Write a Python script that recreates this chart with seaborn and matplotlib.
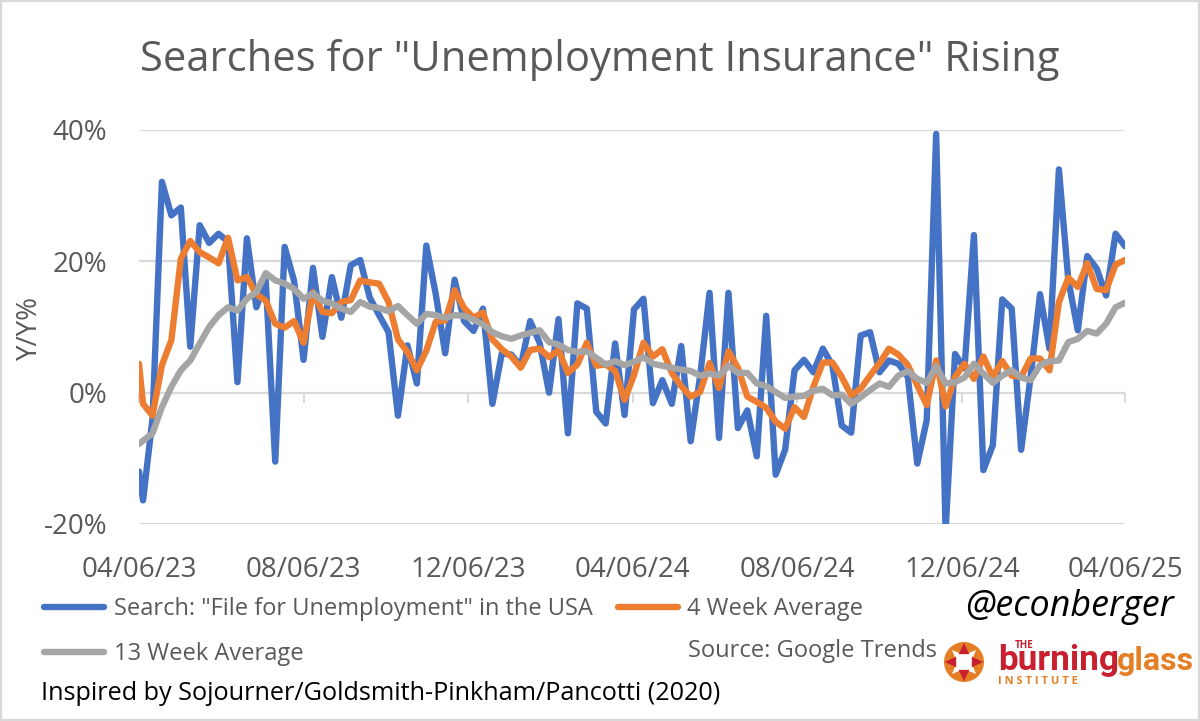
import numpy as np
import pandas as pd
import matplotlib.pyplot as plt
import matplotlib.dates as mdates
from matplotlib.lines import Line2D
from matplotlib.patches import Circle, Polygon, Rectangle
import seaborn as sns

# first point is the 6 April axis start, then Sundays up to 6 April 2025
start_date = "2023-04-06"
first_sunday = "2023-04-09"
last_sunday = "2025-04-06"

search = [-12, -16.4, -4, 32.1, 27, 28.2, 7, 25.5, 22.8, 24.2, 23, 1.6, 23.5, 13, 17, -10.5,
          22.2, 17, 5, 19, 8.5, 17.6, 11.4, 19.4, 20.2, 14.5, 11.8, 9.2, -3.5, 7.2, 1.4, 22.4,
          15, 6, 17.2, 10.9, 9.4, 12.8, -1.7, 6, 5.8, 4, 10.9, 7.6, 0, 11.2, -6.2, 13.6, 12.8,
          -2.9, -4.7, 7.5, -3.4, 12.7, 14.3, -1.6, 1.9, -1.7, 7.1, -7.4, 2.5, 15.2, -6.9, 15.2,
          -5.4, -2.7, -9.7, 11.7, -12.5, -8.7, 3.4, 5, 3.1, 6.7, 4.2, -5, -6.1, 8.7, 9.2, 3.1,
          4.9, 4.4, 2.4, -10.8, -4.2, 39.4, -21, 5.9, 3.7, 24, -11.8, -8, 14.2, 12.8, -8.7, 2.4,
          15, 6.7, 34, 17.1, 9.5, 20.8, 18.9, 14.8, 24.2, 22.3]
avg_4wk = [4.4, -1.7, -3.5, 4.2, 8, 20.4, 23.1, 21.4, 20.6, 19.7, 23.6, 17.1, 17.6, 15, 14, 10.5,
           9.9, 10.9, 7.6, 15.3, 12.3, 12.1, 13.8, 14.1, 17.1, 16.8, 16.6, 13.8, 8.1, 6.2, 3.4, 6.4,
           10.8, 11, 15.6, 12.9, 11.4, 12.2, 8.1, 6.6, 5.5, 3.8, 6.5, 6.7, 5.4, 6.5, 3, 4.3, 7.6,
           4.1, 4.3, 3.3, -1.1, 2.7, 7.6, 5.5, 6.6, 3, 1, -0.6, 0.1, 4.5, 0.7, 6.3, 3.8, -0.6,
           -1.4, -2.3, -4.4, -5.5, -2.2, -3.7, 0.9, 4.6, 4.6, 2.4, -0.4, 0.6, 2.6, 4.5, 6.7, 5.8,
           4.2, 1.1, -1.9, 4.9, -2.1, 2.4, 4.4, 2.1, 5.5, 2.4, 4.8, 2.6, 2.4, 5.2, 5.2, 3.4, 13.8,
           17.5, 16.1, 19.7, 15.8, 15.6, 19.5, 20.2]
avg_13wk = [-7.8, -7.3, -6.2, -2.2, 0.9, 3.4, 4.9, 7.5, 10, 11.8, 13, 12.5, 14.3, 15.3, 18.2, 17.1,
            16.6, 15.8, 14.3, 15.1, 14, 13.6, 12.8, 12.3, 13.8, 13.1, 12.9, 12.4, 13.2, 11.8, 10.5,
            12, 11.8, 11.4, 11.8, 11.7, 11.1, 10.4, 9.2, 8.6, 8.2, 8.7, 9.1, 9.5, 7.7, 7.3, 6.5,
            6.2, 6.3, 5.3, 4.3, 4.8, 4.2, 4.7, 5.4, 4.4, 4.1, 3.8, 3.5, 3.3, 2.6, 2.9, 2.6, 4.1,
            3, 3, 1.4, 1, 0.1, -0.8, -0.6, -0.5, 0.3, 0.6, -0.4, -0.3, -1.7, -0.7, 0.4, 1.4, 0.9,
            2.6, 3.3, 2.1, 1.5, 4, 1.4, 1.6, 2.3, 4.4, 2.9, 1.5, 2.6, 3.4, 2.3, 1.9, 4.2, 4.8, 4.9,
            7.7, 8.2, 9.4, 9, 10.5, 13, 13.7]

series_names = ['Search: "File for Unemployment" in the USA', "4 Week Average", "13 Week Average"]
series_colors = ["#4472C4", "#ED7D31", "#A5A5A5"]
tick_dates = ["2023-04-06", "2023-08-06", "2023-12-06", "2024-04-06", "2024-08-06", "2024-12-06", "2025-04-06"]
y_ticks = [-20, 0, 20, 40]

grey_text = "#595959"
grid_grey = "#D9D9D9"
W, H = 1200, 721

sns.set_theme(style="white")
plt.rcParams["font.family"] = ["Open Sans", "DejaVu Sans"]

dates = [pd.Timestamp(start_date)] + list(pd.date_range(first_sunday, last_sunday, freq="7D"))
df = pd.DataFrame({"date": dates, series_names[0]: search, series_names[1]: avg_4wk, series_names[2]: avg_13wk})
long_df = df.melt(id_vars="date", var_name="series", value_name="yoy")

fig = plt.figure(figsize=(12, 7.21), dpi=100)
ax = fig.add_axes([139 / W, 1 - 524 / H, (1125 - 139) / W, (524 - 130) / H])

sns.lineplot(data=long_df, x="date", y="yoy", hue="series", hue_order=series_names,
             palette=series_colors, linewidth=4.6, estimator=None, sort=False, legend=False, ax=ax,
             solid_joinstyle="round", solid_capstyle="round")

ax.set_xlim(pd.Timestamp(tick_dates[0]), pd.Timestamp(tick_dates[-1]))
ax.set_ylim(-20, 40)
ax.set_yticks(y_ticks)
ax.set_yticklabels([f"{v}%" for v in y_ticks])
ax.set_xticks([pd.Timestamp(d) for d in tick_dates])
ax.xaxis.set_major_formatter(mdates.DateFormatter("%m/%d/%y"))
ax.tick_params(axis="both", length=0, labelsize=20, labelcolor=grey_text)
ax.tick_params(axis="x", pad=23)
ax.tick_params(axis="y", pad=23)
ax.grid(axis="y", color=grid_grey, linewidth=1.6)
ax.set_axisbelow(True)
sns.despine(ax=ax, left=True, bottom=True)
ax.set_xlabel("")
ax.set_ylabel("")
fig.text(30 / W, 1 - 328 / H, "Y/Y%", fontsize=20, color=grey_text, rotation=90, ha="center", va="center")

# tick marks sit on the zero line, labels stay at the bottom
zero_axis = ax.secondary_xaxis(20 / 60)
zero_axis.set_xticks([pd.Timestamp(d) for d in tick_dates])
zero_axis.set_xticklabels([])
zero_axis.tick_params(axis="x", direction="out", length=7, width=1.4, color=grid_grey, bottom=True, top=False)
zero_axis.spines["bottom"].set_visible(False)
zero_axis.spines["top"].set_visible(False)

fig.text(599.5 / W, 1 - 60 / H, 'Searches for "Unemployment Insurance" Rising', fontsize=30.1,
         color=grey_text, ha="center", va="center")

# legend, same column fill as the original
handles = [Line2D([], [], color=series_colors[i], linewidth=4.6, solid_capstyle="round") for i in [0, 2, 1]]
labels = [series_names[i] for i in [0, 2, 1]]
fig.legend(handles, labels, ncol=2, loc="upper left", bbox_to_anchor=(44 / W, 1 - 597 / H), frameon=False,
           fontsize=17, labelcolor=grey_text, handlelength=2.54, handletextpad=0.42, columnspacing=1.05,
           labelspacing=0.88, borderpad=0, borderaxespad=0)

fig.text(688 / W, 1 - 651 / H, "Source: Google Trends", fontsize=17, color=grey_text, ha="left", va="center")
fig.text(965 / W, 1 - 607 / H, "@econberger", fontsize=25.8, color="black", style="italic", ha="left", va="center")
fig.text(41 / W, 1 - 693 / H, "Inspired by Sojourner/Goldsmith-Pinkham/Pancotti (2020)", fontsize=18.2,
         color="black", ha="left", va="center")

# logo, drawn in pixel coordinates
logo = fig.add_axes([0, 0, 1, 1], facecolor="none")
logo.set_xlim(0, W)
logo.set_ylim(H, 0)
logo.axis("off")
cx, cy, r = 964, 662, 20
logo.add_patch(Circle((cx, cy), r, color="#E57F25", lw=0))
star_pts = []
for deg in np.arange(0, 360, 45):
    rad = 17 if (deg - 45) % 90 == 0 else 7
    star_pts.append((cx + rad * np.cos(np.deg2rad(deg)), cy + rad * np.sin(np.deg2rad(deg))))
logo.add_patch(Polygon(star_pts, color="white", lw=0))
logo.add_patch(Circle((cx, cy), 9, color="white", lw=0))
for a in np.deg2rad([0, 90, 180, 270]):
    tip = (cx + 19 * np.cos(a), cy + 19 * np.sin(a))
    b1 = (cx + 9.5 * np.cos(a + 0.6), cy + 9.5 * np.sin(a + 0.6))
    b2 = (cx + 9.5 * np.cos(a - 0.6), cy + 9.5 * np.sin(a - 0.6))
    logo.add_patch(Polygon([tip, b1, b2], color="#C8202F", lw=0))
logo.text(1015, 645, "THE", fontsize=7, color="#C8202F", weight="bold", ha="left", va="center", family="Open Sans")
logo.text(998, 670, "burning", fontsize=25.3, color="#C8202F", weight="bold", ha="left", va="baseline", family="Roboto")
logo.text(1117, 670, "glass", fontsize=23, color="#E57F25", weight="bold", ha="left", va="baseline", family="Roboto")
logo.text(998, 681, "I N S T I T U T E", fontsize=8, color="#E57F25", weight="bold", ha="left", va="center", family="Open Sans")

# thin picture frame
logo.add_patch(Rectangle((1, 1), W - 2, H - 2, fill=False, edgecolor=grid_grey, linewidth=1.6))

fig.savefig("out.png", dpi=100)
